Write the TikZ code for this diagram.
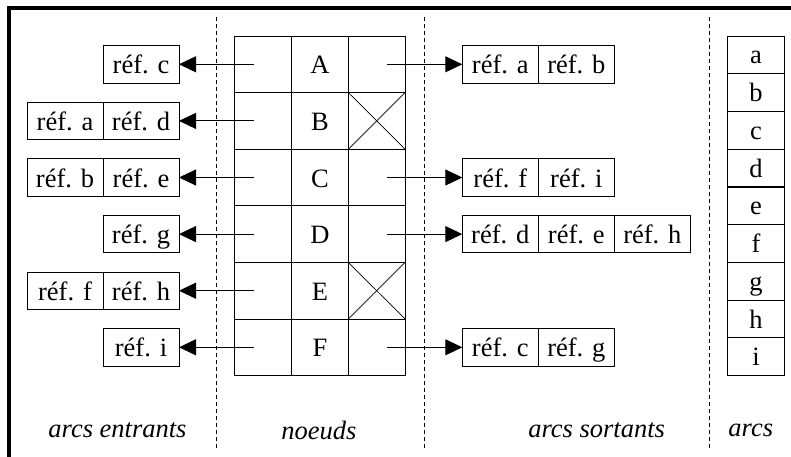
\documentclass[tikz,border=0pt]{standalone}
\usepackage{fontspec}
\setmainfont{Liberation Serif}
\usetikzlibrary{arrows.meta}
\tikzstyle{nodecell} = [rectangle, draw, line width=1pt, minimum width=56.7pt, minimum height=56.6pt, inner sep=0pt, outer sep=0pt, text height=24pt, text depth=5pt]
\tikzstyle{refbox} = [rectangle, draw, line width=0.9pt, minimum width=76pt, minimum height=37.4pt, inner sep=0pt, outer sep=0pt, text height=24pt, text depth=5pt]
\tikzstyle{arccell} = [rectangle, draw, line width=1pt, minimum width=56.7pt, minimum height=37.74pt, inner sep=0pt, outer sep=0pt, text height=24pt, text depth=6pt]
\tikzstyle{arrow} = [line width=0.9pt, -{Triangle[length=17pt,width=16pt]}]
\tikzstyle{sep} = [line width=0.8pt, dash pattern=on 4pt off 3pt]
\tikzstyle{legend} = [font=\fontsize{26.5}{30}\selectfont\itshape]

\begin{document}
\begin{tikzpicture}[x=1pt, y=-1pt, font=\fontsize{26.5}{30}\selectfont]
    \clip (0,0) rectangle (791,456);
    % cadre
    \draw [line width=3.5pt] (9,470) -- (9,8) -- (800,8);
    % separations
    \draw [sep] (216.5,17) -- (216.5,450);
    \draw [sep] (424.3,17) -- (424.3,450);
    \draw [sep] (709,17) -- (709,450);
    % noeuds
    \node [nodecell] at (263.3,64.3) (inA) {};
    \node [nodecell] at (320,64.3) (nA) {A};
    \node [nodecell] at (376.7,64.3) (outA) {};
    \node [nodecell] at (263.3,120.9) (inB) {};
    \node [nodecell] at (320,120.9) (nB) {B};
    \node [nodecell] at (376.7,120.9) (outB) {};
    \node [nodecell] at (263.3,177.5) (inC) {};
    \node [nodecell] at (320,177.5) (nC) {C};
    \node [nodecell] at (376.7,177.5) (outC) {};
    \node [nodecell] at (263.3,234.1) (inD) {};
    \node [nodecell] at (320,234.1) (nD) {D};
    \node [nodecell] at (376.7,234.1) (outD) {};
    \node [nodecell] at (263.3,290.7) (inE) {};
    \node [nodecell] at (320,290.7) (nE) {E};
    \node [nodecell] at (376.7,290.7) (outE) {};
    \node [nodecell] at (263.3,347.3) (inF) {};
    \node [nodecell] at (320,347.3) (nF) {F};
    \node [nodecell] at (376.7,347.3) (outF) {};
    \draw [line width=0.7pt] (outB.north west) -- (outB.south east) (outB.south west) -- (outB.north east);
    \draw [line width=0.7pt] (outE.north west) -- (outE.south east) (outE.south west) -- (outE.north east);
    % arcs entrants
    \node [refbox] at (141,64.3) (lA1) {réf. c};
    \node [refbox] at (141,120.9) (lB1) {réf. d};
    \node [refbox] at (65,120.9) (lB2) {réf. a};
    \node [refbox] at (141,177.5) (lC1) {réf. e};
    \node [refbox] at (65,177.5) (lC2) {réf. b};
    \node [refbox] at (141,234.1) (lD1) {réf. g};
    \node [refbox] at (141,290.7) (lE1) {réf. h};
    \node [refbox] at (65,290.7) (lE2) {réf. f};
    \node [refbox] at (141,347.3) (lF1) {réf. i};
    \draw [arrow, shorten <=9.3pt] (inA.center) -- (lA1);
    \draw [arrow, shorten <=9.3pt] (inB.center) -- (lB1);
    \draw [arrow, shorten <=9.3pt] (inC.center) -- (lC1);
    \draw [arrow, shorten <=9.3pt] (inD.center) -- (lD1);
    \draw [arrow, shorten <=9.3pt] (inE.center) -- (lE1);
    \draw [arrow, shorten <=9.3pt] (inF.center) -- (lF1);
    % arcs sortants
    \node [refbox] at (500.3,64.3) (rA1) {réf. a};
    \node [refbox] at (576.3,64.3) (rA2) {réf. b};
    \node [refbox] at (500.3,177.5) (rC1) {réf. f};
    \node [refbox] at (576.3,177.5) (rC2) {réf. i};
    \node [refbox] at (500.3,234.1) (rD1) {réf. d};
    \node [refbox] at (576.3,234.1) (rD2) {réf. e};
    \node [refbox] at (652.3,234.1) (rD3) {réf. h};
    \node [refbox] at (500.3,347.3) (rF1) {réf. c};
    \node [refbox] at (576.3,347.3) (rF2) {réf. g};
    \draw [arrow, shorten <=10pt] (outA.center) -- (rA1);
    \draw [arrow, shorten <=10pt] (outC.center) -- (rC1);
    \draw [arrow, shorten <=10pt] (outD.center) -- (rD1);
    \draw [arrow, shorten <=10pt] (outF.center) -- (rF1);
    % arcs
    \node [arccell] at (756,54.9) (aa) {a};
    \node [arccell] at (756,92.6) (ab) {b};
    \node [arccell] at (756,130.4) (ac) {c};
    \node [arccell] at (756,168.1) (ad) {d};
    \node [arccell] at (756,205.9) (ae) {e};
    \node [arccell] at (756,243.6) (af) {f};
    \node [arccell] at (756,281.3) (ag) {g};
    \node [arccell] at (756,319.1) (ah) {h};
    \node [arccell] at (756,356.8) (ai) {i};
    % legendes
    \node [legend] at (117.5,430) (tin) {arcs entrants};
    \node [legend] at (319,430) (tnodes) {noeuds};
    \node [legend] at (596.7,430) (tout) {arcs sortants};
    \node [legend] at (750.8,430) (tarcs) {arcs};
\end{tikzpicture}
\end{document}
